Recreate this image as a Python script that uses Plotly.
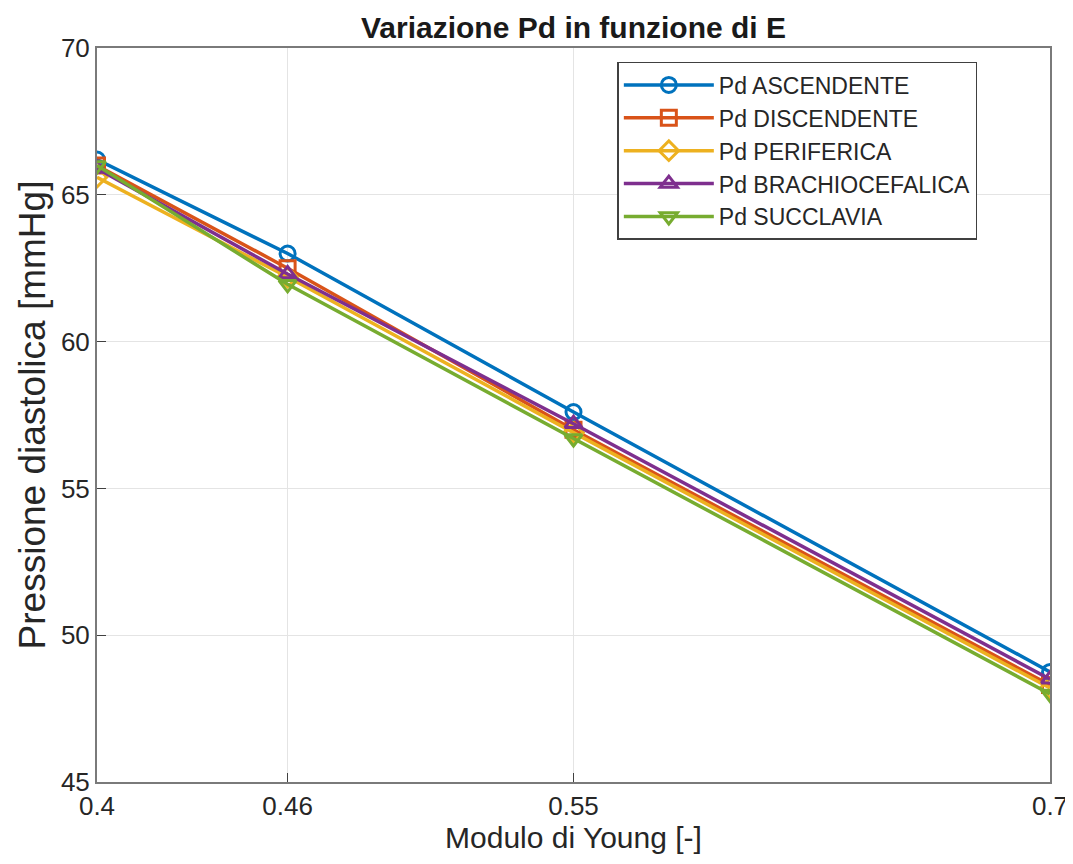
import plotly.graph_objects as go

E = [0.4, 0.46, 0.55, 0.7]
ascendente = [66.2, 63.0, 57.6, 48.75]
discendente = [66.0, 62.5, 57.0, 48.3]
periferica = [65.6, 62.2, 56.9, 48.2]
brachiocefalica = [65.9, 62.3, 57.2, 48.5]
succlavia = [66.0, 61.95, 56.7, 48.0]
x_ticks = ["0.4", "0.46", "0.55", "0.7"]
y_ticks = [45, 50, 55, 60, 65, 70]

series = [
    ("Pd ASCENDENTE", ascendente, "#0072BD", "circle-open"),
    ("Pd DISCENDENTE", discendente, "#D95319", "square-open"),
    ("Pd PERIFERICA", periferica, "#EDB120", "diamond-open"),
    ("Pd BRACHIOCEFALICA", brachiocefalica, "#7E2F8E", "triangle-up-open"),
    ("Pd SUCCLAVIA", succlavia, "#77AC30", "triangle-down-open"),
]

fig = go.Figure()
for name, vals, color, sym in series:
    fig.add_trace(go.Scatter(
        x=E, y=vals, name=name, mode="lines+markers",
        line=dict(color=color, width=3.5),
        marker=dict(symbol=sym, size=15, color=color, line=dict(width=3, color=color)),
    ))

axis_common = dict(
    showline=True, linecolor="#7a7a7a", linewidth=2, mirror=True,
    showgrid=True, gridcolor="#e4e4e4", gridwidth=1,
    ticks="inside", ticklen=9, tickcolor="#404040",
    tickfont=dict(size=26, color="#262626"), zeroline=False,
)

fig.update_layout(
    width=1073, height=864,
    margin=dict(l=89, r=31, t=40, b=90),
    paper_bgcolor="white", plot_bgcolor="white",
    font=dict(family="Liberation Sans, Arial, sans-serif", color="#262626"),
    title=dict(text="<b>Variazione Pd in funzione di E</b>", x=0.5, xanchor="center",
               xref="paper", yref="container", y=1 - 19 / 864, yanchor="middle",
               font=dict(size=30, color="#1a1a1a")),
    xaxis=dict(range=[0.4, 0.7], tickvals=E, ticktext=x_ticks,
               title=dict(text="Modulo di Young [-]", font=dict(size=30), standoff=0), **axis_common),
    yaxis=dict(range=[45, 70], tickvals=y_ticks,
               title=dict(text="Pressione diastolica [mmHg]", font=dict(size=37), standoff=4), **axis_common),
    legend=dict(x=0.546, y=0.981, xanchor="left", yanchor="top",
                bgcolor="white", bordercolor="#404040", borderwidth=1.5,
                font=dict(size=23, color="#262626"), tracegroupgap=0, itemwidth=90),
    showlegend=True,
)

fig.write_html("out.html")
